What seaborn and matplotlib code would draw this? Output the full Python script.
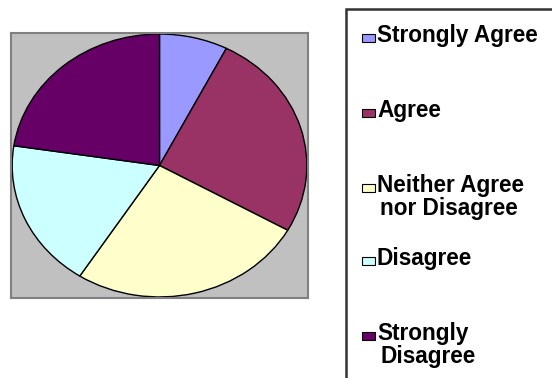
import matplotlib
matplotlib.use("Agg")
import matplotlib.pyplot as plt
import seaborn as sns
from matplotlib.patches import Rectangle

# ---- data ----
categories = ["Strongly Agree", "Agree", "Neither Agree\nnor Disagree", "Disagree", "Strongly\nDisagree"]
values = [7.5, 25.7, 25.9, 18.3, 22.6]
colors = ["#9999FF", "#993366", "#FFFFCC", "#CCFFFF", "#660066"]

sns.set_style("white")
palette = sns.color_palette(colors)

W, H = 552, 378
fig = plt.figure(figsize=(W / 100, H / 100), dpi=100)
fig.patch.set_facecolor("white")

def fx(x):
    return x / W

def fy(y):
    return 1 - y / H

# plot area (gray box)
left, top, right, bottom = 11, 33, 308, 298
ax = fig.add_axes([fx(left), fy(bottom), (right - left) / W, (bottom - top) / H])
ax.pie(values, colors=palette, startangle=90, counterclock=False, radius=1.0,
       wedgeprops=dict(edgecolor="black", linewidth=1.0), frame=True)
ax.set_aspect("auto")
ax.set_xlim(-1.008, 1.008)
ax.set_ylim(-1.008, 1.008)
ax.set_xticks([])
ax.set_yticks([])
ax.set_facecolor("#C0C0C0")
for s in ax.spines.values():
    s.set_visible(True)
    s.set_edgecolor("#808080")
    s.set_linewidth(1.5)

# legend box
fig.add_artist(Rectangle((fx(346), fy(400)), (W + 20 - 346) / W, (400 - 9) / H,
                         transform=fig.transFigure, facecolor="white",
                         edgecolor="#333333", linewidth=1.8, zorder=1))

baselines = [42, 117, 192, 265, 340]
line_gap = 23
for lab, col, b in zip(categories, palette, baselines):
    fig.add_artist(Rectangle((fx(362), fy(b)), 13 / W, 8 / H, transform=fig.transFigure,
                             facecolor=col, edgecolor="black", linewidth=0.8, zorder=3))
    for i, line in enumerate(lab.split("\n")):
        fig.text(fx(377 if i == 0 else 380), fy(b + i * line_gap), line,
                 fontsize=16.3, fontweight="bold", family="Liberation Sans",
                 va="baseline", ha="left", color="black", zorder=4)

fig.savefig("out.png", dpi=100)
